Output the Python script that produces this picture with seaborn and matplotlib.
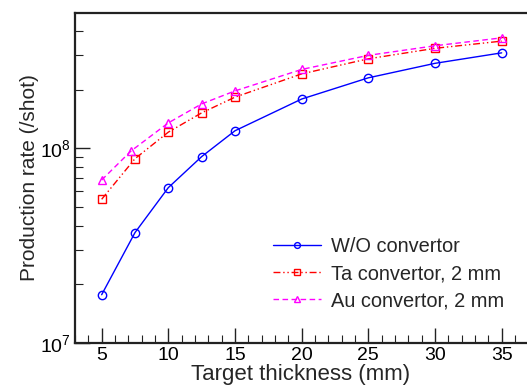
import matplotlib
matplotlib.use("Agg")
import matplotlib.pyplot as plt
import matplotlib.ticker as mticker
import numpy as np
import pandas as pd
import seaborn as sns

# Data
x_wo = [5, 7.5, 10, 12.5, 15, 20, 25, 30, 35]
y_wo = [1.77e7, 3.69e7, 6.28e7, 9.06e7, 1.23e8, 1.79e8, 2.30e8, 2.73e8, 3.09e8]
x_ta = [5, 7.5, 10, 12.5, 15, 20, 25, 30, 35]
y_ta = [5.47e7, 8.84e7, 1.21e8, 1.52e8, 1.83e8, 2.41e8, 2.88e8, 3.26e8, 3.55e8]
x_au = [5, 7.2, 10, 12.5, 15, 20, 25, 30, 35]
y_au = [6.87e7, 9.68e7, 1.35e8, 1.69e8, 1.97e8, 2.54e8, 3.00e8, 3.36e8, 3.69e8]

labels = ["W/O convertor", "Ta convertor, 2 mm", "Au convertor, 2 mm"]
xticks = [5, 10, 15, 20, 25, 30, 35]

sns.set_style("ticks")
plt.rcParams['font.family'] = ['Liberation Sans', 'DejaVu Sans']
plt.rcParams['mathtext.fontset'] = 'custom'
plt.rcParams['mathtext.rm'] = 'Liberation Sans'

fig = plt.figure(figsize=(5.27, 3.89), dpi=100)
ax = fig.add_axes([75/527, 1-343/389, 1-75/527, (343-13)/389])

styles = [
    dict(color="#0000ff", marker="o", ls="-"),
    dict(color="#ff0000", marker="s", ls=(0, (5, 2, 1, 2, 1, 2))),
    dict(color="#ff00ff", marker="^", ls=(0, (4, 2.5))),
]
series = [(x_wo, y_wo), (x_ta, y_ta), (x_au, y_au)]
for (xs, ys), lab, st in zip(series, labels, styles):
    df = pd.DataFrame({"x": xs, "y": ys})
    sns.lineplot(data=df, x="x", y="y", ax=ax, color=st["color"], marker=st["marker"],
                 linestyle=st["ls"], lw=1.0, markersize=6, mfc="none",
                 mec=st["color"], mew=1.0, label=lab, legend=False)

ax.set_yscale("log")
ax.set_xlim(3, 36.9)
ax.set_ylim(1e7, 4.95e8)
ax.set_xticks(xticks)
ax.xaxis.set_minor_locator(mticker.MultipleLocator(1))
ax.yaxis.set_major_locator(mticker.LogLocator(base=10, numticks=10))
ax.yaxis.set_minor_locator(mticker.LogLocator(base=10, subs=np.arange(2, 10), numticks=20))
ax.yaxis.set_minor_formatter(mticker.NullFormatter())
ax.yaxis.set_major_formatter(mticker.FuncFormatter(lambda v, p: r"$\mathregular{10^{%d}}$" % int(round(np.log10(v)))))

ax.tick_params(which="major", direction="in", length=11, width=1.0, labelsize=14, colors="#222222", labelcolor="black", pad=3)
ax.tick_params(which="minor", direction="in", length=6, width=0.8, colors="#222222")
ax.tick_params(top=False, right=False, which="both")
for s in ["left", "bottom", "top"]:
    ax.spines[s].set_linewidth(1.6)
    ax.spines[s].set_color("#222222")
ax.spines["right"].set_visible(False)

ax.set_xlabel("Target thickness (mm)", fontsize=16, labelpad=0)
ax.set_ylabel("Production rate (/shot)", fontsize=15, labelpad=1)

leg = ax.legend(loc="lower right", bbox_to_anchor=(0.99, 0.045), frameon=False, fontsize=14.4,
                handlelength=2.4, handletextpad=0.5, labelspacing=0.4, markerscale=0.7, numpoints=1)

fig.savefig("out.png", dpi=100)
